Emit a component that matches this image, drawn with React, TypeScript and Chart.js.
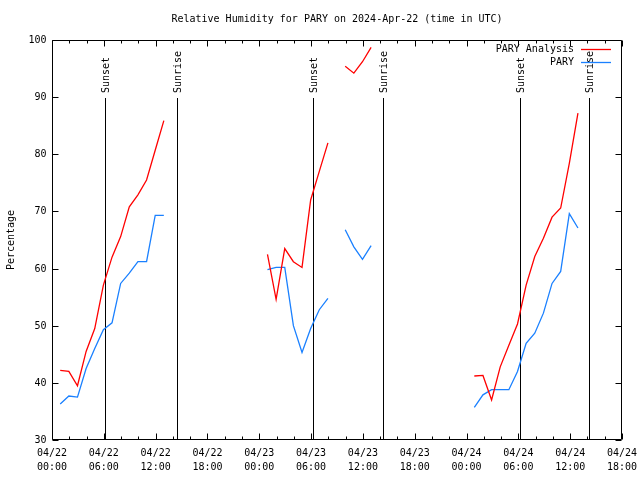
import React, { useEffect, useRef } from "react";
import { Chart, registerables } from "chart.js";

Chart.register(...registerables);

// ---- Data (hours since 2024-04-22 00:00 UTC) ----
const SEG_STARTS = [0.95, 24.95, 33.95, 48.9];
const ANALYSIS_SEGS = [
  [42.2, 42.0, 39.5, 45.5, 49.5, 57.1, 62.0, 65.6, 70.8, 72.9, 75.5, 80.7, 85.9],
  [62.5, 54.6, 63.5, 61.2, 60.2, 72.0, 77.0, 82.0],
  [95.4, 94.2, 96.2, 98.7],
  [41.2, 41.3, 37.0, 42.8, 46.6, 50.3, 57.1, 62.1, 65.3, 69.0, 70.6, 78.4, 87.2],
];
const PARY_SEGS = [
  [36.3, 37.7, 37.5, 42.5, 46.0, 49.3, 50.5, 57.4, 59.2, 61.2, 61.2, 69.3, 69.3],
  [59.8, 60.2, 60.2, 50.0, 45.3, 49.5, 52.8, 54.8],
  [66.8, 63.8, 61.6, 64.0],
  [35.7, 37.9, 38.8, 38.8, 38.8, 42.0, 46.9, 48.7, 52.2, 57.4, 59.5, 69.6, 67.1],
];
const SUN_EVENTS = [
  { h: 6.17, label: "Sunset" },
  { h: 14.45, label: "Sunrise" },
  { h: 30.2, label: "Sunset" },
  { h: 38.33, label: "Sunrise" },
  { h: 54.2, label: "Sunset" },
  { h: 62.2, label: "Sunrise" },
];
const X_TICK_HOURS = [0, 6, 12, 18, 24, 30, 36, 42, 48, 54, 60, 66];
const X_TICK_DATES = ["04/22", "04/22", "04/22", "04/22", "04/23", "04/23", "04/23", "04/23", "04/24", "04/24", "04/24", "04/24"];
const X_TICK_TIMES = ["00:00", "06:00", "12:00", "18:00", "00:00", "06:00", "12:00", "18:00", "00:00", "06:00", "12:00", "18:00"];
const Y_TICKS = [30, 40, 50, 60, 70, 80, 90, 100];
const TITLE = "Relative Humidity for PARY on 2024-Apr-22 (time in UTC)";
const Y_TITLE = "Percentage";
const SERIES_NAMES = ["PARY Analysis", "PARY"];
const SERIES_COLORS = ["#ff0000", "#1a80ff"];

function buildPoints(segs: number[][]) {
  const pts: { x: number; y: number | null }[] = [];
  segs.forEach((seg, si) => {
    seg.forEach((v, k) => pts.push({ x: SEG_STARTS[si] + k, y: v }));
    if (si < segs.length - 1) pts.push({ x: SEG_STARTS[si] + seg.length - 0.5, y: null });
  });
  return pts;
}

const FONT = "10px 'DejaVu Sans Mono', monospace";

const decorPlugin = {
  id: "decor",
  beforeDatasetsDraw(chart: any) {
    const { ctx, chartArea: a, scales } = chart;
    const xs = scales.x;
    ctx.save();
    ctx.strokeStyle = "#000";
    ctx.lineWidth = 1;
    ctx.fillStyle = "#000";
    ctx.font = FONT;
    SUN_EVENTS.forEach((e) => {
      const px = Math.round(xs.getPixelForValue(e.h)) + 0.5;
      ctx.beginPath();
      ctx.moveTo(px, 98);
      ctx.lineTo(px, a.bottom);
      ctx.stroke();
      ctx.save();
      ctx.translate(px + 1, 93);
      ctx.rotate(-Math.PI / 2);
      ctx.textAlign = "left";
      ctx.textBaseline = "middle";
      ctx.fillText(e.label, 0, 0);
      ctx.restore();
    });
    ctx.restore();
  },
  afterDraw(chart: any) {
    const { ctx, chartArea: a, scales } = chart;
    const xs = scales.x;
    const ys = scales.y;
    ctx.save();
    ctx.strokeStyle = "#000";
    ctx.fillStyle = "#000";
    ctx.lineWidth = 1;
    ctx.font = FONT;
    const L = Math.round(a.left) + 0.5;
    const R = Math.round(a.right) - 0.5;
    const T = Math.round(a.top) + 0.5;
    const B = Math.round(a.bottom) - 0.5;
    ctx.beginPath();
    ctx.rect(L, T, R - L, B - T);
    ctx.stroke();

    // y ticks
    ctx.textAlign = "right";
    ctx.textBaseline = "middle";
    Y_TICKS.forEach((v) => {
      const py = Math.round(ys.getPixelForValue(v)) + 0.5;
      ctx.beginPath();
      ctx.moveTo(L, py);
      ctx.lineTo(L + 6, py);
      ctx.moveTo(R, py);
      ctx.lineTo(R - 6, py);
      ctx.stroke();
      ctx.fillText(String(v), L - 6, py);
    });

    // x ticks (major every 6h, minor every 2h)
    for (let h = 0; h <= 66; h += 2) {
      const px = Math.round(xs.getPixelForValue(h)) + 0.5;
      const len = h % 6 === 0 ? 6 : 3;
      ctx.beginPath();
      ctx.moveTo(px, B);
      ctx.lineTo(px, B - len);
      ctx.moveTo(px, T);
      ctx.lineTo(px, T + len);
      ctx.stroke();
    }
    ctx.textAlign = "center";
    X_TICK_HOURS.forEach((h, i) => {
      const px = xs.getPixelForValue(h);
      ctx.fillText(X_TICK_DATES[i], px, 453);
      ctx.fillText(X_TICK_TIMES[i], px, 467);
    });

    // title
    ctx.fillText(TITLE, (a.left + a.right) / 2, 19);

    // y title
    ctx.save();
    ctx.translate(11, (a.top + a.bottom) / 2);
    ctx.rotate(-Math.PI / 2);
    ctx.fillText(Y_TITLE, 0, 0);
    ctx.restore();

    // legend
    const legY = [49.5, 62.5];
    ctx.textAlign = "right";
    SERIES_NAMES.forEach((name, i) => {
      ctx.fillStyle = "#000";
      ctx.fillText(name, 574, legY[i]);
      ctx.strokeStyle = SERIES_COLORS[i];
      ctx.lineWidth = 1.3;
      ctx.beginPath();
      ctx.moveTo(581, legY[i]);
      ctx.lineTo(611, legY[i]);
      ctx.stroke();
    });
    ctx.restore();
  },
};

export default function App() {
  const ref = useRef<HTMLCanvasElement | null>(null);
  useEffect(() => {
    document.body.style.margin = "0";
    const canvas = ref.current;
    if (!canvas) return;
    const chart = new Chart(canvas, {
      type: "line",
      data: {
        datasets: [
          {
            label: SERIES_NAMES[0],
            data: buildPoints(ANALYSIS_SEGS) as any,
            borderColor: SERIES_COLORS[0],
            borderWidth: 1.3,
            pointRadius: 0,
            spanGaps: false,
            tension: 0,
          },
          {
            label: SERIES_NAMES[1],
            data: buildPoints(PARY_SEGS) as any,
            borderColor: SERIES_COLORS[1],
            borderWidth: 1.3,
            pointRadius: 0,
            spanGaps: false,
            tension: 0,
          },
        ],
      },
      options: {
        responsive: false,
        animation: false,
        layout: { padding: { left: 52, right: 18, top: 40, bottom: 40 } },
        plugins: { legend: { display: false }, title: { display: false }, tooltip: { enabled: false } },
        scales: {
          x: { type: "linear", min: 0, max: 66, display: false },
          y: { type: "linear", min: 30, max: 100, display: false },
        },
      },
      plugins: [decorPlugin],
    });
    return () => chart.destroy();
  }, []);
  return <canvas ref={ref} width={640} height={480} style={{ display: "block" }} />;
}
